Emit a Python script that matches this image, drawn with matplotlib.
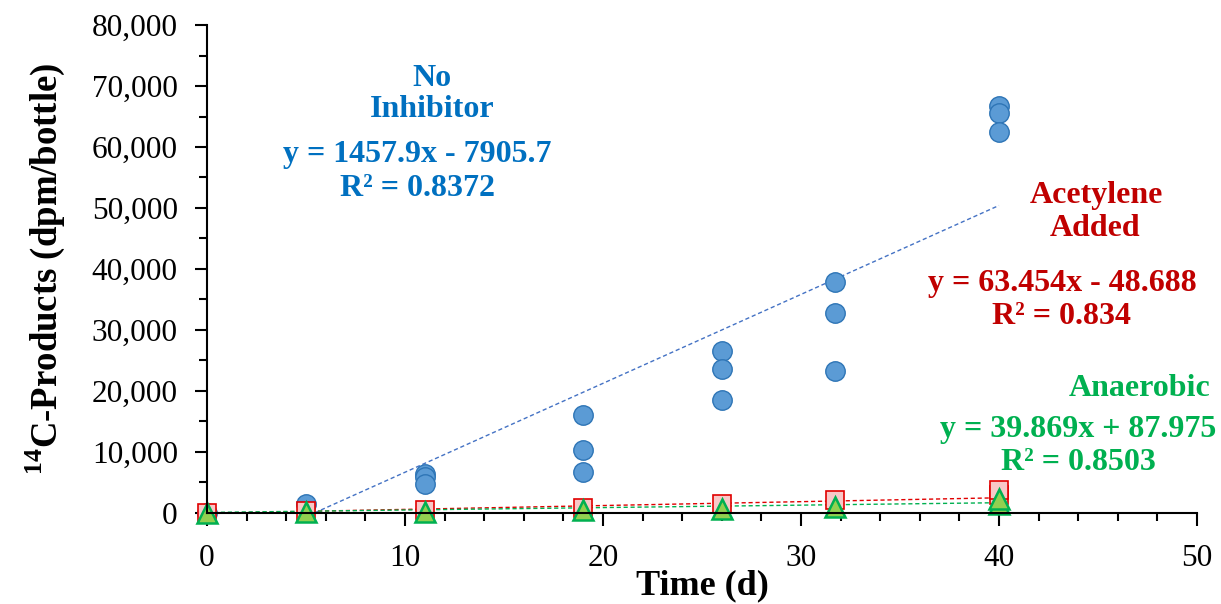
import matplotlib.pyplot as plt
import numpy as np
from matplotlib.ticker import FuncFormatter, MultipleLocator

plt.rcParams['font.family'] = 'Liberation Serif'
plt.rcParams['mathtext.fontset'] = 'custom'
plt.rcParams['mathtext.rm'] = 'Liberation Serif'
plt.rcParams['mathtext.bf'] = 'Liberation Serif:bold'

# no inhibitor (3 bottles per day)
days_none = [0, 5, 11, 11, 11, 19, 19, 19, 26, 26, 26, 31.7, 31.7, 31.7, 40, 40, 40]
dpm_none = [0, 1500, 6400, 5900, 4800, 16000, 10300, 6700,
            26500, 23600, 18500, 37800, 32800, 23200, 66700, 65500, 62400]

# acetylene added
days_acet = [0, 5, 11, 19, 26, 31.7, 40, 40]
dpm_acet = [0, 300, 500, 800, 1500, 2200, 3000, 3800]

# anaerobic
days_anaer = [0, 5, 11, 19, 26, 31.7, 40, 40]
dpm_anaer = [0, 100, 200, 500, 700, 900, 1500, 2300]

# trendline coefficients (slope, intercept, r2)
fit_none = (1457.9, -7905.7, 0.8372)
fit_acet = (63.454, -48.688, 0.834)
fit_anaer = (39.869, 87.975, 0.8503)

fig = plt.figure(figsize=(12.21, 6.04), dpi=100)
ax = fig.add_axes([0.1695, 0.1507, 0.8108, 0.8079])

# trendlines first, markers on top
xfit = np.linspace(0, 40, 200)
ax.plot(xfit, fit_none[0] * xfit + fit_none[1], ls=(0, (3, 2)), color='#4472C4', lw=1)
ax.plot(xfit, fit_acet[0] * xfit + fit_acet[1], ls=(0, (3, 2)), color='#E00000', lw=1)
ax.plot(xfit, fit_anaer[0] * xfit + fit_anaer[1], ls=(0, (3, 2)), color='#00B050', lw=1)

ax.plot(days_none, dpm_none, 'o', ms=14, mfc='#5B9BD5', mec='#2E75B6', mew=1, clip_on=False)
ax.plot(days_acet, dpm_acet, 's', ms=13, mfc='#F8C8C8', mec='#E00000', mew=1.2, clip_on=False)
ax.plot(days_anaer, dpm_anaer, '^', ms=14, mfc='#92D050', mec='#00B050', mew=1.8, clip_on=False)

ax.set_xlim(0, 50)
ax.set_ylim(0, 80000)
ax.xaxis.set_major_locator(MultipleLocator(10))
ax.xaxis.set_minor_locator(MultipleLocator(2))
ax.yaxis.set_major_locator(MultipleLocator(10000))
ax.yaxis.set_minor_locator(MultipleLocator(5000))
ax.yaxis.set_major_formatter(FuncFormatter(lambda v, p: f'{int(v):,}'))

for s in ['top', 'right']:
    ax.spines[s].set_visible(False)
for s in ['left', 'bottom']:
    ax.spines[s].set_linewidth(1.5)

ax.tick_params(which='major', length=9, width=1.5, labelsize=22.5, direction='out')
ax.tick_params(which='minor', length=6, width=1.5, direction='out')
ax.tick_params(axis='y', pad=12)
ax.tick_params(axis='x', pad=13)

ax.set_xlabel('Time (d)', fontsize=26, fontweight='bold', labelpad=-2)
ax.set_ylabel(r'$^{\mathbf{14}}$C-Products (dpm/bottle)', fontsize=26.5,
              fontweight='bold', labelpad=18)

W, H = 1221, 604


def label(x, y, s, color):
    fig.text(x / W, 1 - y / H, s, color=color, fontsize=23, fontweight='bold',
             ha='center', va='center')


blue, red, green = '#0070C0', '#C00000', '#00B050'
label(432, 78, 'No', blue)
label(432, 110, 'Inhibitor', blue)
label(417, 154, 'y = 1457.9x - 7905.7', blue)
label(417, 188, 'R² = 0.8372', blue)

label(1096, 196, 'Acetylene', red)
label(1095, 229, 'Added', red)
label(1062, 284, 'y = 63.454x - 48.688', red)
label(1062, 317, 'R² = 0.834', red)

label(1140, 389, 'Anaerobic', green)
label(1078, 430, 'y = 39.869x + 87.975', green)
label(1078, 463, 'R² = 0.8503', green)

fig.savefig('out.png', dpi=100)
